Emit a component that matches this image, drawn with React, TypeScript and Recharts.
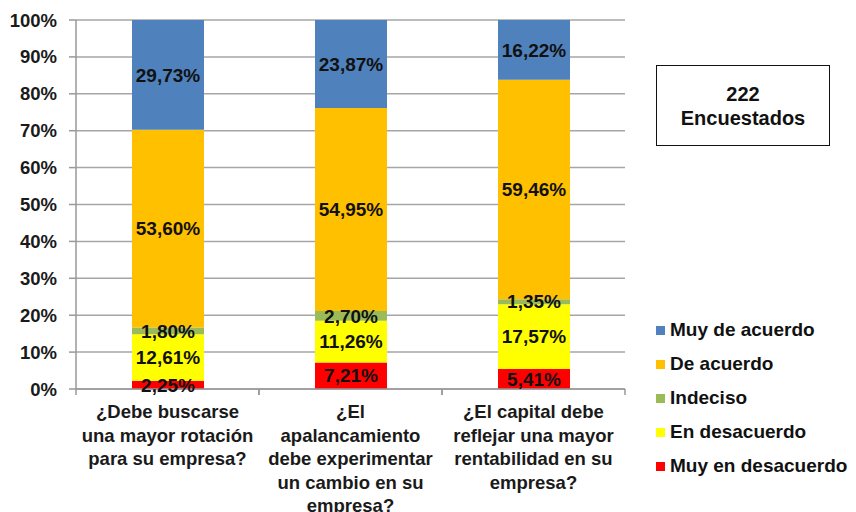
import { BarChart, Bar, XAxis, YAxis, CartesianGrid, LabelList } from "recharts";

const FONT = '"Liberation Sans", Arial, sans-serif';

const questions = [
  ["¿Debe buscarse", "una mayor rotación", "para su empresa?"],
  ["¿El", "apalancamiento", "debe experimentar", "un cambio en su", "empresa?"],
  ["¿El capital debe", "reflejar una mayor", "rentabilidad en su", "empresa?"],
];

const muyEnDesacuerdo = [2.25, 7.21, 5.41];
const enDesacuerdo = [12.61, 11.26, 17.57];
const indeciso = [1.8, 2.7, 1.35];
const deAcuerdo = [53.6, 54.95, 59.46];
const muyDeAcuerdo = [29.73, 23.87, 16.22];

const yTicks = [0, 10, 20, 30, 40, 50, 60, 70, 80, 90, 100];

// bottom of the stack first
const series = [
  { key: "muyEnDesacuerdo", name: "Muy en desacuerdo", color: "#FF0000" },
  { key: "enDesacuerdo", name: "En desacuerdo", color: "#FFFF00" },
  { key: "indeciso", name: "Indeciso", color: "#9BBB59" },
  { key: "deAcuerdo", name: "De acuerdo", color: "#FFC000" },
  { key: "muyDeAcuerdo", name: "Muy de acuerdo", color: "#4F81BD" },
];

const data = questions.map((q, i) => ({
  name: String(i),
  muyEnDesacuerdo: muyEnDesacuerdo[i],
  enDesacuerdo: enDesacuerdo[i],
  indeciso: indeciso[i],
  deAcuerdo: deAcuerdo[i],
  muyDeAcuerdo: muyDeAcuerdo[i],
}));

const fmt = (v: any) => Number(v).toFixed(2).replace(".", ",") + "%";

function QuestionTick(props: any) {
  const { x, y, payload } = props;
  const lines = questions[Number(payload.value)] || [];
  const half = payload.offset || 91.5;
  return (
    <g>
      <line x1={x - half} x2={x - half} y1={y - 8} y2={y - 2} stroke="#999" strokeWidth={1.5} />
      <line x1={x + half} x2={x + half} y1={y - 8} y2={y - 2} stroke="#999" strokeWidth={1.5} />
      <text
        x={x}
        y={y}
        textAnchor="middle"
        fontFamily={FONT}
        fontWeight="bold"
        fontSize={18.5}
        fill="#1a1a1a"
      >
        {lines.map((l, i) => (
          <tspan key={i} x={x} dy={i === 0 ? 21 : 23.5}>
            {l}
          </tspan>
        ))}
      </text>
    </g>
  );
}

export default function App() {
  return (
    <div style={{ position: "absolute", left: 0, top: 0, width: 856, height: 512, background: "#fff" }}>
      <BarChart
        width={856}
        height={512}
        data={data}
        margin={{ top: 20, right: 231, bottom: 0, left: 0 }}
        barSize={72}
      >
        <CartesianGrid vertical={false} stroke="#A6A6A6" strokeWidth={1.5} />
        <XAxis
          dataKey="name"
          tick={<QuestionTick />}
          tickLine={false}
          axisLine={{ stroke: "#999", strokeWidth: 1.5 }}
          interval={0}
          height={123}
        />
        <YAxis
          width={76}
          domain={[0, 100]}
          ticks={yTicks}
          interval={0}
          tickFormatter={(v) => `${v}%`}
          axisLine={{ stroke: "#999", strokeWidth: 1.5 }}
          tickLine={{ stroke: "#999", strokeWidth: 1.5 }}
          tickSize={7}
          tickMargin={12}
          tick={{ fontFamily: FONT, fontWeight: "bold", fontSize: 18.5, fill: "#1a1a1a" }}
          allowDataOverflow
        />
        {series.map((s) => (
          <Bar key={s.key} dataKey={s.key} name={s.name} stackId="a" fill={s.color} isAnimationActive={false}>
            <LabelList
              dataKey={s.key}
              position="center"
              formatter={fmt}
              style={{ fontFamily: FONT, fontWeight: "bold", fontSize: 19, fill: "#111" }}
            />
          </Bar>
        ))}
      </BarChart>

      <div
        style={{
          position: "absolute",
          left: 656,
          top: 65,
          width: 172,
          height: 79,
          border: "1.5px solid #111",
          display: "flex",
          flexDirection: "column",
          justifyContent: "center",
          alignItems: "center",
          fontFamily: FONT,
          fontWeight: "bold",
          fontSize: 20,
          lineHeight: "24px",
          color: "#111",
        }}
      >
        <div>222</div>
        <div>Encuestados</div>
      </div>

      <div style={{ position: "absolute", left: 656, top: 313, fontFamily: FONT, fontWeight: "bold", fontSize: 19, color: "#111" }}>
        {[...series].reverse().map((s) => (
          <div key={s.key} style={{ display: "flex", alignItems: "center", height: 34 }}>
            <span style={{ width: 9, height: 9, background: s.color, display: "inline-block", marginRight: 5 }} />
            <span>{s.name}</span>
          </div>
        ))}
      </div>
    </div>
  );
}
